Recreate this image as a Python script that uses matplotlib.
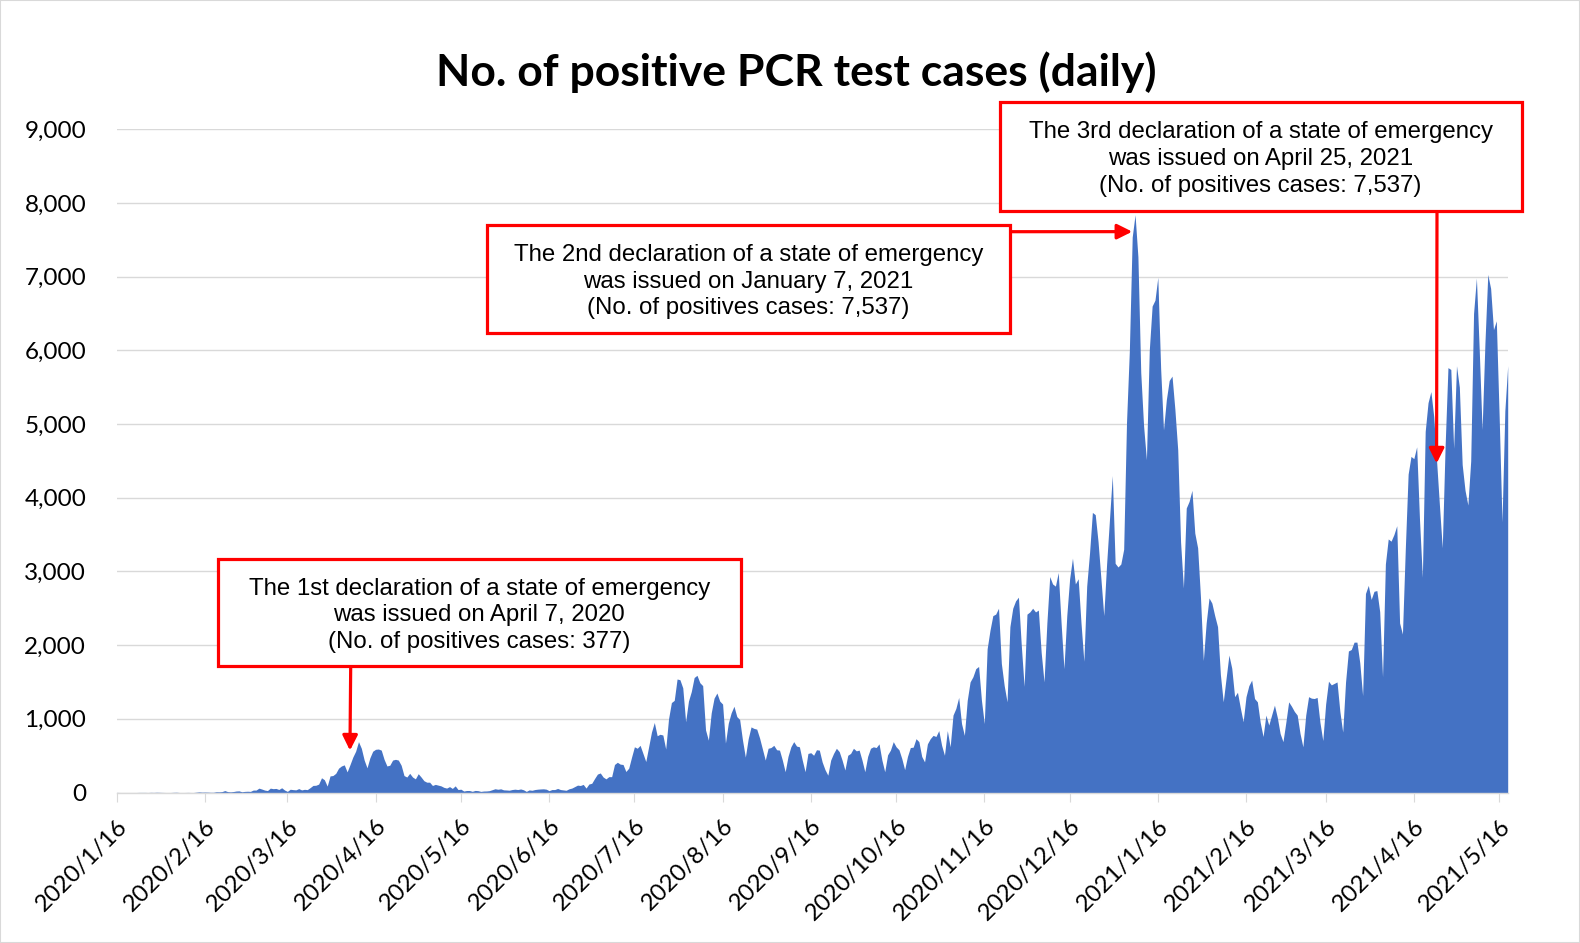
import matplotlib
matplotlib.use("Agg")
import matplotlib.pyplot as plt
import matplotlib.transforms as mtransforms
from matplotlib.patches import Rectangle
import pandas as pd

# daily positives, one list per month (2020/1/16 .. 2021/5/19)
jan20 = [1, 0, 0, 0, 0, 0, 0, 0, 1, 1, 1, 0, 2, 1, 3, 2]
feb20 = [1, 0, 0, 0, 2, 3, 0, 0, 0, 1, 0, 0, 4, 8, 5, 6, 5, 3, 3, 10,
         9, 12, 26, 12, 9, 13, 20, 22, 10]
mar20 = [15, 17, 15, 33, 33, 59, 47, 33, 26, 59, 52, 55, 41, 64, 34, 15, 44, 39, 36, 53,
         35, 43, 39, 66, 96, 98, 114, 200, 173, 87, 225]
apr20 = [230, 260, 330, 360, 375, 280, 377, 480, 560, 690, 600, 440, 335, 470, 560, 586, 590, 575, 450, 360,
         370, 440, 450, 440, 370, 230, 210, 260, 210, 185]
may20 = [255, 210, 160, 140, 140, 95, 110, 100, 90, 70, 60, 80, 55, 90, 40, 45, 20, 27, 27, 16,
         28, 25, 15, 20, 21, 25, 38, 51, 44, 50, 36]
jun20 = [34, 31, 40, 45, 40, 48, 37, 15, 35, 30, 40, 45, 48, 50, 45, 25, 40, 40, 55, 40,
         35, 30, 50, 60, 80, 100, 95, 110, 60, 115]
jul20 = [125, 190, 250, 265, 210, 185, 215, 215, 380, 410, 385, 380, 285, 330, 480, 620, 600, 640, 530, 420,
         620, 820, 950, 770, 790, 780, 590, 1000, 1220, 1250, 1540]
aug20 = [1530, 1420, 960, 1240, 1370, 1560, 1590, 1490, 1450, 850, 710, 1080, 1280, 1350, 1240, 1200, 670, 940, 1080, 1170,
         1030, 990, 710, 480, 730, 890, 870, 860, 740, 590, 440]
sep20 = [600, 610, 640, 580, 575, 440, 282, 490, 620, 690, 630, 620, 440, 282, 530, 540, 505, 580, 575, 415,
         310, 235, 440, 530, 600, 555, 440, 305, 505, 530]
oct20 = [600, 565, 575, 440, 282, 490, 600, 620, 610, 660, 440, 282, 510, 575, 690, 620, 580, 460, 310, 490,
         610, 615, 730, 690, 490, 415, 660, 730, 775, 760, 840]
nov20 = [640, 505, 840, 620, 1050, 1140, 1290, 935, 775, 1250, 1500, 1570, 1680, 1710, 1250, 935, 1950, 2200, 2400, 2420,
         2500, 1750, 1450, 1230, 2250, 2500, 2600, 2650, 2000, 1440]
dec20 = [2420, 2450, 2500, 2450, 2475, 1900, 1500, 2300, 2930, 2830, 2800, 2985, 2300, 1680, 2400, 2900, 3180, 2830, 2900, 2300,
         1780, 2800, 3250, 3800, 3770, 3400, 2900, 2400, 3100, 3700, 4300]
jan21 = [3110, 3060, 3100, 3300, 5025, 6000, 7537, 7840, 7270, 5700, 4975, 4515, 6000, 6600, 6680, 6990, 5750, 4920, 5330, 5590,
         5650, 5200, 4650, 3400, 2775, 3860, 3950, 4100, 3520, 3320, 2650]
feb21 = [1790, 2300, 2640, 2570, 2400, 2250, 1600, 1230, 1550, 1865, 1685, 1300, 1360, 1150, 960, 1300, 1450, 1525, 1275, 1230,
         950, 760, 1050, 915, 1050, 1185, 1020, 800]
mar21 = [690, 950, 1230, 1170, 1100, 1050, 800, 620, 1050, 1300, 1280, 1275, 1290, 950, 705, 1200, 1510, 1460, 1480, 1500,
         1100, 820, 1500, 1920, 1940, 2040, 2040, 1760, 1315, 2700, 2810]
apr21 = [2620, 2730, 2740, 2455, 1570, 3100, 3440, 3410, 3500, 3620, 2300, 2150, 3300, 4320, 4560, 4530, 4690, 3700, 2920, 4900,
         5290, 5440, 5100, 4500, 3900, 3320, 4700, 5765, 5740, 4670]
may21 = [5790, 5500, 4450, 4100, 3900, 4500, 6500, 6980, 6000, 4925, 6100, 7030, 6840, 6280, 6400, 5100, 3670, 5180, 5790]

cases = (jan20 + feb20 + mar20 + apr20 + may20 + jun20 + jul20 + aug20 + sep20 + oct20
         + nov20 + dec20 + jan21 + feb21 + mar21 + apr21 + may21)
dates = pd.date_range("2020-01-16", periods=len(cases), freq="D")
tick_dates = pd.date_range("2020-01-16", periods=17, freq=pd.DateOffset(months=1))

title = "No. of positive PCR test cases (daily)"
notes = [
    "The 1st declaration of a state of emergency\nwas issued on April 7, 2020\n(No. of positives cases: 377)",
    "The 2nd declaration of a state of emergency\nwas issued on January 7, 2021\n(No. of positives cases: 7,537)",
    "The 3rd declaration of a state of emergency\nwas issued on April 25, 2021\n(No. of positives cases: 7,537)",
]
# where each arrow points (date, value)
note_targets = [("2020-04-07", 570), ("2021-01-07", 7610), ("2021-04-24", 4465)]

W, H = 1580, 943
plt.rcParams['font.family'] = ['Lato', 'DejaVu Sans']
fig = plt.figure(figsize=(W / 100, H / 100), dpi=100)
ax = fig.add_axes([116.7 / W, 1 - 792.5 / H, (1507.7 - 116.7) / W, 663.3 / H])


def fxy(x, y):
    # pixel position (from top left) -> figure fraction
    return x / W, 1 - y / H


ax.fill_between(dates, cases, color="#4472C4", lw=0, zorder=2)

ax.set_xlim(dates[0], dates[-1])
ax.set_ylim(0, 9000)
ax.set_yticks(range(0, 9001, 1000))
ax.set_yticklabels([f"{v:,}" for v in range(0, 9001, 1000)])
ax.set_xticks(tick_dates)
ax.set_xticklabels([f"{d.year}/{d.month}/{d.day}" for d in tick_dates],
                   rotation=45, ha="right", va="top", rotation_mode="anchor")
offset = mtransforms.ScaledTranslation(1 / 100, 0, fig.dpi_scale_trans)
for lab in ax.get_xticklabels():
    lab.set_transform(lab.get_transform() + offset)

ax.grid(axis="y", color="#D9D9D9", lw=1.0, zorder=0)
ax.set_axisbelow(True)
for s in ["left", "right", "top"]:
    ax.spines[s].set_visible(False)
ax.spines["bottom"].set_color("#D9D9D9")
ax.spines["bottom"].set_linewidth(1.0)
ax.spines["bottom"].set_zorder(3)
ax.tick_params(axis="y", length=0, pad=22, labelsize=17.5)
ax.tick_params(axis="x", length=6.5, width=0.8, color="#D9D9D9", pad=10, labelsize=17.3)

fig.text(*fxy(796, 72.5), title, ha="center", va="center",
         fontsize=32, fontweight="bold")

boxes = [(217.7, 559, 740.7, 666), (486.7, 224.7, 1009.7, 332.5), (999.6, 101.8, 1521.6, 210.6)]
arrow_starts = [(350.7, 666), (1009.7, 231.7), (1437, 210.6)]

for note, (x0, y0, x1, y1), start, (td, tv) in zip(notes, boxes, arrow_starts, note_targets):
    ax.annotate("", xy=(pd.Timestamp(td), tv), xycoords="data",
                xytext=fxy(*start), textcoords="figure fraction",
                arrowprops=dict(arrowstyle="-|>,head_length=0.9,head_width=0.45",
                                color="red", lw=2.3, shrinkA=0, shrinkB=0,
                                mutation_scale=10),
                annotation_clip=False, zorder=5)
    fx, fy = fxy(x0, y1)
    rect = Rectangle((fx, fy), (x1 - x0) / W, (y1 - y0) / H, transform=fig.transFigure,
                     facecolor="white", edgecolor="red", lw=2.3, zorder=6)
    fig.add_artist(rect)
    fig.text(*fxy((x0 + x1) / 2, (y0 + y1) / 2 + 3), note, ha="center", va="center",
             fontsize=17.3, family=["Liberation Sans", "DejaVu Sans"],
             linespacing=1.28, zorder=7)

fig.add_artist(Rectangle((0, 0), 1, 1, transform=fig.transFigure, fill=False,
                         edgecolor="#D9D9D9", lw=1.5))

fig.savefig("out.png", dpi=100, facecolor="white")
